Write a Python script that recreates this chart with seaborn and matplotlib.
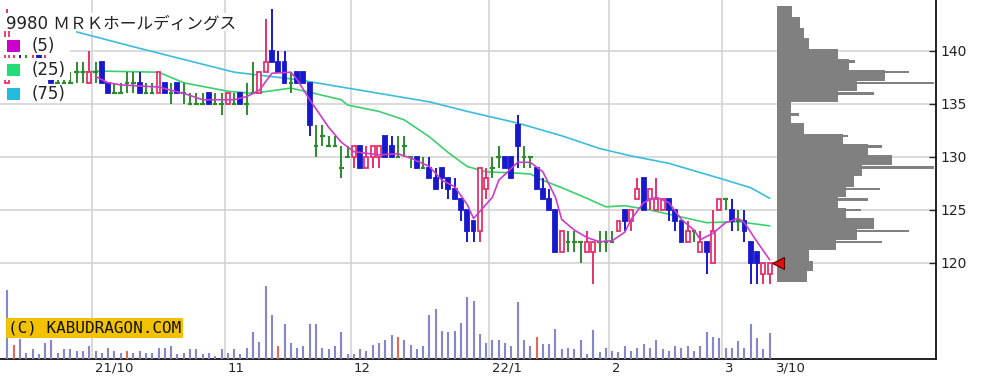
import matplotlib
matplotlib.use("Agg")
import matplotlib.pyplot as plt
import matplotlib.transforms as mtrans
from matplotlib.patches import Rectangle
import numpy as np
import seaborn as sns

sns.set_style("white")
plt.rcParams["font.family"] = ["DejaVu Sans", "Noto Sans CJK JP"]

title = "9980 ＭＲＫホールディングス"

# daily candles, 2021/9/9 .. 2022/3/10 (one entry per trading day)
opens = [137, 138, 139, 139, 138, 140, 138, 138, 137, 137, 137, 138, 138, 137, 138, 139, 137, 136, 136, 137,
         137, 137, 136, 136, 136, 137, 136, 137, 136, 135, 135, 135, 136, 135, 135, 135, 135, 136, 135, 136,
         136, 138, 140, 139, 139, 137, 138, 138, 137, 131, 132, 131, 131, 129, 130, 130, 131, 129, 130, 130,
         132, 131, 130, 131, 130, 130, 129, 129, 128, 129, 128, 127, 126, 125, 124, 123, 127, 129, 130, 130,
         130, 133, 130, 130, 129, 127, 126, 125, 121, 122, 122, 122, 121, 121, 122, 122, 122, 123, 125, 124,
         126, 128, 126, 125, 125, 126, 125, 124, 122, 123, 121, 122, 120, 125, 126, 125, 124, 124, 122, 121,
         119, 119]
highs = [144, 140, 140, 140, 140, 140, 140, 138, 138, 138, 138, 139, 139, 140, 139, 139, 137, 137, 137, 138,
         138, 138, 137, 137, 138, 137, 137, 137, 137, 136, 136, 136, 136, 136, 136, 136, 136, 136, 137, 139,
         138, 143, 144, 140, 140, 138, 138, 138, 137, 133, 133, 132, 132, 131, 131, 131, 131, 131, 131, 131,
         132, 132, 132, 132, 130, 130, 130, 130, 129, 129, 128, 128, 126, 125, 124, 129, 129, 130, 131, 130,
         130, 134, 131, 130, 129, 128, 127, 125, 123, 123, 123, 122, 123, 122, 123, 123, 123, 124, 125, 125,
         128, 128, 127, 128, 126, 126, 125, 124, 124, 123, 123, 122, 125, 126, 126, 126, 125, 125, 122, 121,
         120, 120]
lows = [137, 138, 138, 138, 138, 138, 138, 137, 137, 137, 137, 137, 137, 137, 137, 137, 136, 136, 136, 136,
        136, 136, 136, 136, 136, 136, 135, 136, 135, 135, 135, 135, 135, 135, 134, 135, 135, 135, 134, 136,
        136, 138, 139, 138, 137, 136, 137, 137, 132, 130, 131, 131, 131, 128, 130, 129, 129, 129, 129, 129,
        130, 130, 130, 130, 129, 129, 129, 128, 127, 127, 126, 126, 124, 122, 122, 122, 126, 128, 129, 129,
        128, 129, 129, 129, 127, 126, 125, 121, 121, 121, 121, 120, 121, 118, 121, 121, 122, 123, 123, 123,
        126, 125, 125, 125, 125, 124, 123, 122, 122, 122, 121, 119, 120, 125, 125, 123, 123, 122, 118, 118,
        118, 118]
closes = [142, 139, 138, 139, 139, 138, 139, 137, 137, 137, 137, 138, 138, 138, 138, 137, 136, 136, 136, 137,
          137, 136, 136, 136, 138, 136, 136, 136, 136, 135, 135, 135, 135, 135, 135, 136, 135, 135, 135, 136,
          138, 139, 139, 138, 137, 137, 137, 137, 133, 131, 132, 131, 131, 129, 130, 131, 129, 130, 131, 131,
          130, 130, 130, 131, 130, 129, 129, 128, 127, 128, 127, 126, 125, 123, 123, 129, 128, 129, 130, 129,
          128, 131, 130, 130, 127, 126, 125, 121, 123, 122, 122, 122, 122, 122, 122, 122, 122, 124, 124, 125,
          127, 125, 127, 126, 126, 125, 124, 122, 123, 123, 122, 121, 123, 126, 126, 124, 124, 123, 120, 120,
          120, 120]
# volume, thousand shares
volume = [690, 140, 200, 63, 97, 50, 157, 190, 63, 97, 97, 80, 80, 130, 80, 63, 110, 80, 63, 80,
          63, 80, 63, 63, 110, 110, 130, 50, 63, 97, 97, 50, 63, 30, 97, 63, 97, 50, 110, 270,
          170, 730, 440, 127, 350, 157, 110, 127, 350, 350, 110, 97, 127, 267, 50, 50, 97, 80, 143, 157,
          190, 237, 220, 190, 143, 97, 127, 440, 500, 283, 267, 283, 360, 620, 580, 250, 160, 190, 190, 163,
          130, 570, 190, 130, 223, 147, 147, 297, 97, 113, 97, 190, 50, 287, 67, 113, 83, 67, 130, 83,
          113, 147, 113, 190, 97, 83, 130, 113, 130, 83, 130, 273, 223, 207, 113, 113, 177, 113, 350, 207,
          97, 257]
red_volume_days = [1, 19, 43, 62, 84]

month_start = [14, 35, 55, 77, 96, 114]
month_labels = ["21/10", "11", "12", "22/1", "2", "3"]
last_label = "3/10"

# moving averages (day index, price)
ma5_day = [14, 16, 18, 24, 28, 31, 36, 38, 40, 42, 45, 46, 48, 51, 53, 55, 59, 62, 64, 67, 69, 71, 73, 74, 77,
           78, 81, 83, 85, 87, 88, 90, 92, 94, 96, 98, 99, 101, 103, 105, 107, 109, 110, 112, 114, 116, 117,
           119, 121]
ma5_val = [137.6, 137.0, 136.8, 136.6, 136.0, 135.4, 135.4, 135.7, 136.3, 137.9, 138.0, 137.3, 135.4, 132.8,
           131.4, 130.5, 130.2, 130.3, 129.9, 129.1, 127.8, 127.2, 125.5, 124.2, 126.2, 127.8, 129.5, 129.5,
           128.6, 126.2, 124.1, 123.1, 122.4, 122.0, 122.1, 122.9, 124.1, 125.7, 126.2, 125.7, 124.1, 123.1,
           122.2, 122.8, 123.8, 124.2, 123.8, 122.0, 120.3]
ma25_day = [11, 15, 24, 28, 35, 39, 45, 48, 53, 54, 59, 63, 67, 70, 73, 76, 80, 83, 85, 88, 92, 95, 98, 102,
            108, 111, 116, 121]
ma25_val = [138.0, 138.1, 138.0, 137.0, 136.2, 136.0, 136.5, 136.1, 135.4, 134.9, 134.3, 133.5, 131.9, 130.4,
            129.1, 128.6, 128.5, 128.4, 127.8, 127.1, 126.1, 125.3, 125.4, 125.0, 124.2, 123.8, 123.9, 123.5]
ma75_day = [11, 20, 28, 36, 46, 53, 59, 67, 73, 81, 88, 94, 99, 105, 113, 118, 121]
ma75_val = [141.8, 140.4, 139.2, 138.0, 137.3, 136.6, 136.0, 135.2, 134.3, 133.2, 132.0, 130.8, 130.1, 129.4,
            128.0, 127.1, 126.1]

# volume by price (1-yen bins) plus single-price spikes
vp_price = list(range(118, 144))
vp_volume = [30, 36, 32, 59, 80, 97, 69, 61, 69, 77, 85, 115, 91, 66, 27, 14, 14, 61, 80, 108, 72, 61, 32, 27,
             23, 15]
vp_spike_price = [139, 138, 137, 136, 134, 132, 131, 129, 127, 126, 125, 123, 122]
vp_spike_volume = [78, 132, 157, 97, 22, 71, 105, 157, 103, 91, 84, 132, 105]

W, H = 1008, 379
UP, DOWN, DOJI = "#e8306a", "#1818cc", "#2e8a2e"

fig = plt.figure(figsize=(W / 100, H / 100), dpi=100)
fig.patch.set_facecolor("white")
ax = fig.add_axes([0, 20 / H, 936 / W, 359 / H])
ax_v = ax.twinx()

days = np.arange(len(closes))
ax.set_xlim(-1.16, 147.4)
ax.set_ylim(110.94, 144.81)

for d, o, h, l, c in zip(days, opens, highs, lows, closes):
    if c > o:
        col = UP
    elif c < o:
        col = DOWN
    else:
        col = DOJI
    ax.vlines(d, l, h, color=col, lw=1.4, zorder=3)
    if c == o:
        ax.hlines(c, d - 0.36, d + 0.36, color=col, lw=1.6, zorder=3)
    else:
        ax.bar(d, abs(c - o), bottom=min(o, c), width=0.62, facecolor="white" if c > o else col,
               edgecolor=col, lw=1.3, zorder=4)

sns.lineplot(x=ma75_day, y=ma75_val, ax=ax, color="#3cbcdc", lw=1.2, zorder=2)
sns.lineplot(x=ma25_day, y=ma25_val, ax=ax, color="#3ccf6e", lw=1.2, zorder=2)
sns.lineplot(x=ma5_day, y=ma5_val, ax=ax, color="#cc3ccc", lw=1.2, zorder=5)

ax.set_yticks([120, 125, 130, 135, 140])
ax.yaxis.tick_right()
ax.tick_params(axis="y", direction="in", length=5, width=1, pad=3, labelsize=10, labelcolor="#222222")
ax.set_xticks([m - 0.5 for m in month_start] + [len(closes) - 0.5])
ax.set_xticklabels(month_labels + [last_label])
ax.tick_params(axis="x", length=0, pad=2, labelsize=9.5, labelcolor="#222222")
shift = mtrans.ScaledTranslation(3 / 100, 0, fig.dpi_scale_trans)
for lbl in ax.get_xticklabels():
    lbl.set_ha("left")
    lbl.set_transform(lbl.get_transform() + shift)
ax.set_axisbelow(True)
ax.grid(True, color="#d4d4d4", lw=1.2)
ax.get_xgridlines()[-1].set_visible(False)
for side in ["left", "top"]:
    ax.spines[side].set_visible(False)
for side in ["right", "bottom"]:
    ax.spines[side].set_color("#111111")
    ax.spines[side].set_linewidth(1.3)
ax.set_xlabel("")
ax.set_ylabel("")

# volume
vol_colors = ["#e06a5a" if d in red_volume_days else "#8585d0" for d in days]
ax_v.vlines(days, 0, volume, colors=vol_colors, lw=1.5, zorder=2)
ax_v.set_ylim(0, max(volume) * 359 / 73)
ax_v.axis("off")
ax_v.patch.set_visible(False)

# volume by price
ax_vp = fig.add_axes([777 / W, 20 / H, 159 / W, 359 / H], sharey=ax)
ax_vp.patch.set_visible(False)
ax_vp.barh(np.array(vp_price) + 0.7, vp_volume, height=1.0, left=0, color="#808080", lw=0)
ax_vp.barh(vp_spike_price, vp_spike_volume, height=0.22, left=0, color="#808080", lw=0)
ax_vp.plot(0.8, closes[-1], marker="<", ms=8, color="#e01010", mec="#5a0000", mew=0.8, clip_on=False, zorder=6)
ax_vp.set_xlim(0, 159)
ax_vp.axis("off")
ax.set_ylim(110.94, 144.81)


def px_rect(x0, y0, x1, y1, color):
    fig.add_artist(Rectangle((x0 / W, 1 - y1 / H), (x1 - x0) / W, (y1 - y0) / H,
                             transform=fig.transFigure, facecolor=color, edgecolor="none", zorder=8))


# title and legend (white backed)
px_rect(0, 13, 242, 31, "white")
fig.text(6 / W, 1 - 23 / H, title, fontsize=12, color="#222222", va="center", zorder=9)
for lab, col, yc, (b0, b1) in [("(5)", "#cc00cc", 46, (37, 55)),
                               ("(25)", "#22dd77", 70, (58, 80)),
                               ("(75)", "#22bbdd", 94, (84, 103))]:
    px_rect(0, b0, 70, b1, "white")
    px_rect(7, yc - 6, 20, yc + 6, col)
    fig.text(32 / W, 1 - yc / H, lab, fontsize=12, color="#222222", va="center", zorder=9)

fig.text(8 / W, 1 - 328 / H, "(C) KABUDRAGON.COM", fontsize=11.5, family="DejaVu Sans Mono",
         color="#111111", va="center", zorder=9,
         bbox=dict(facecolor="#f2c200", edgecolor="none", pad=1.5))

fig.savefig("out.png", dpi=100, facecolor="white")
